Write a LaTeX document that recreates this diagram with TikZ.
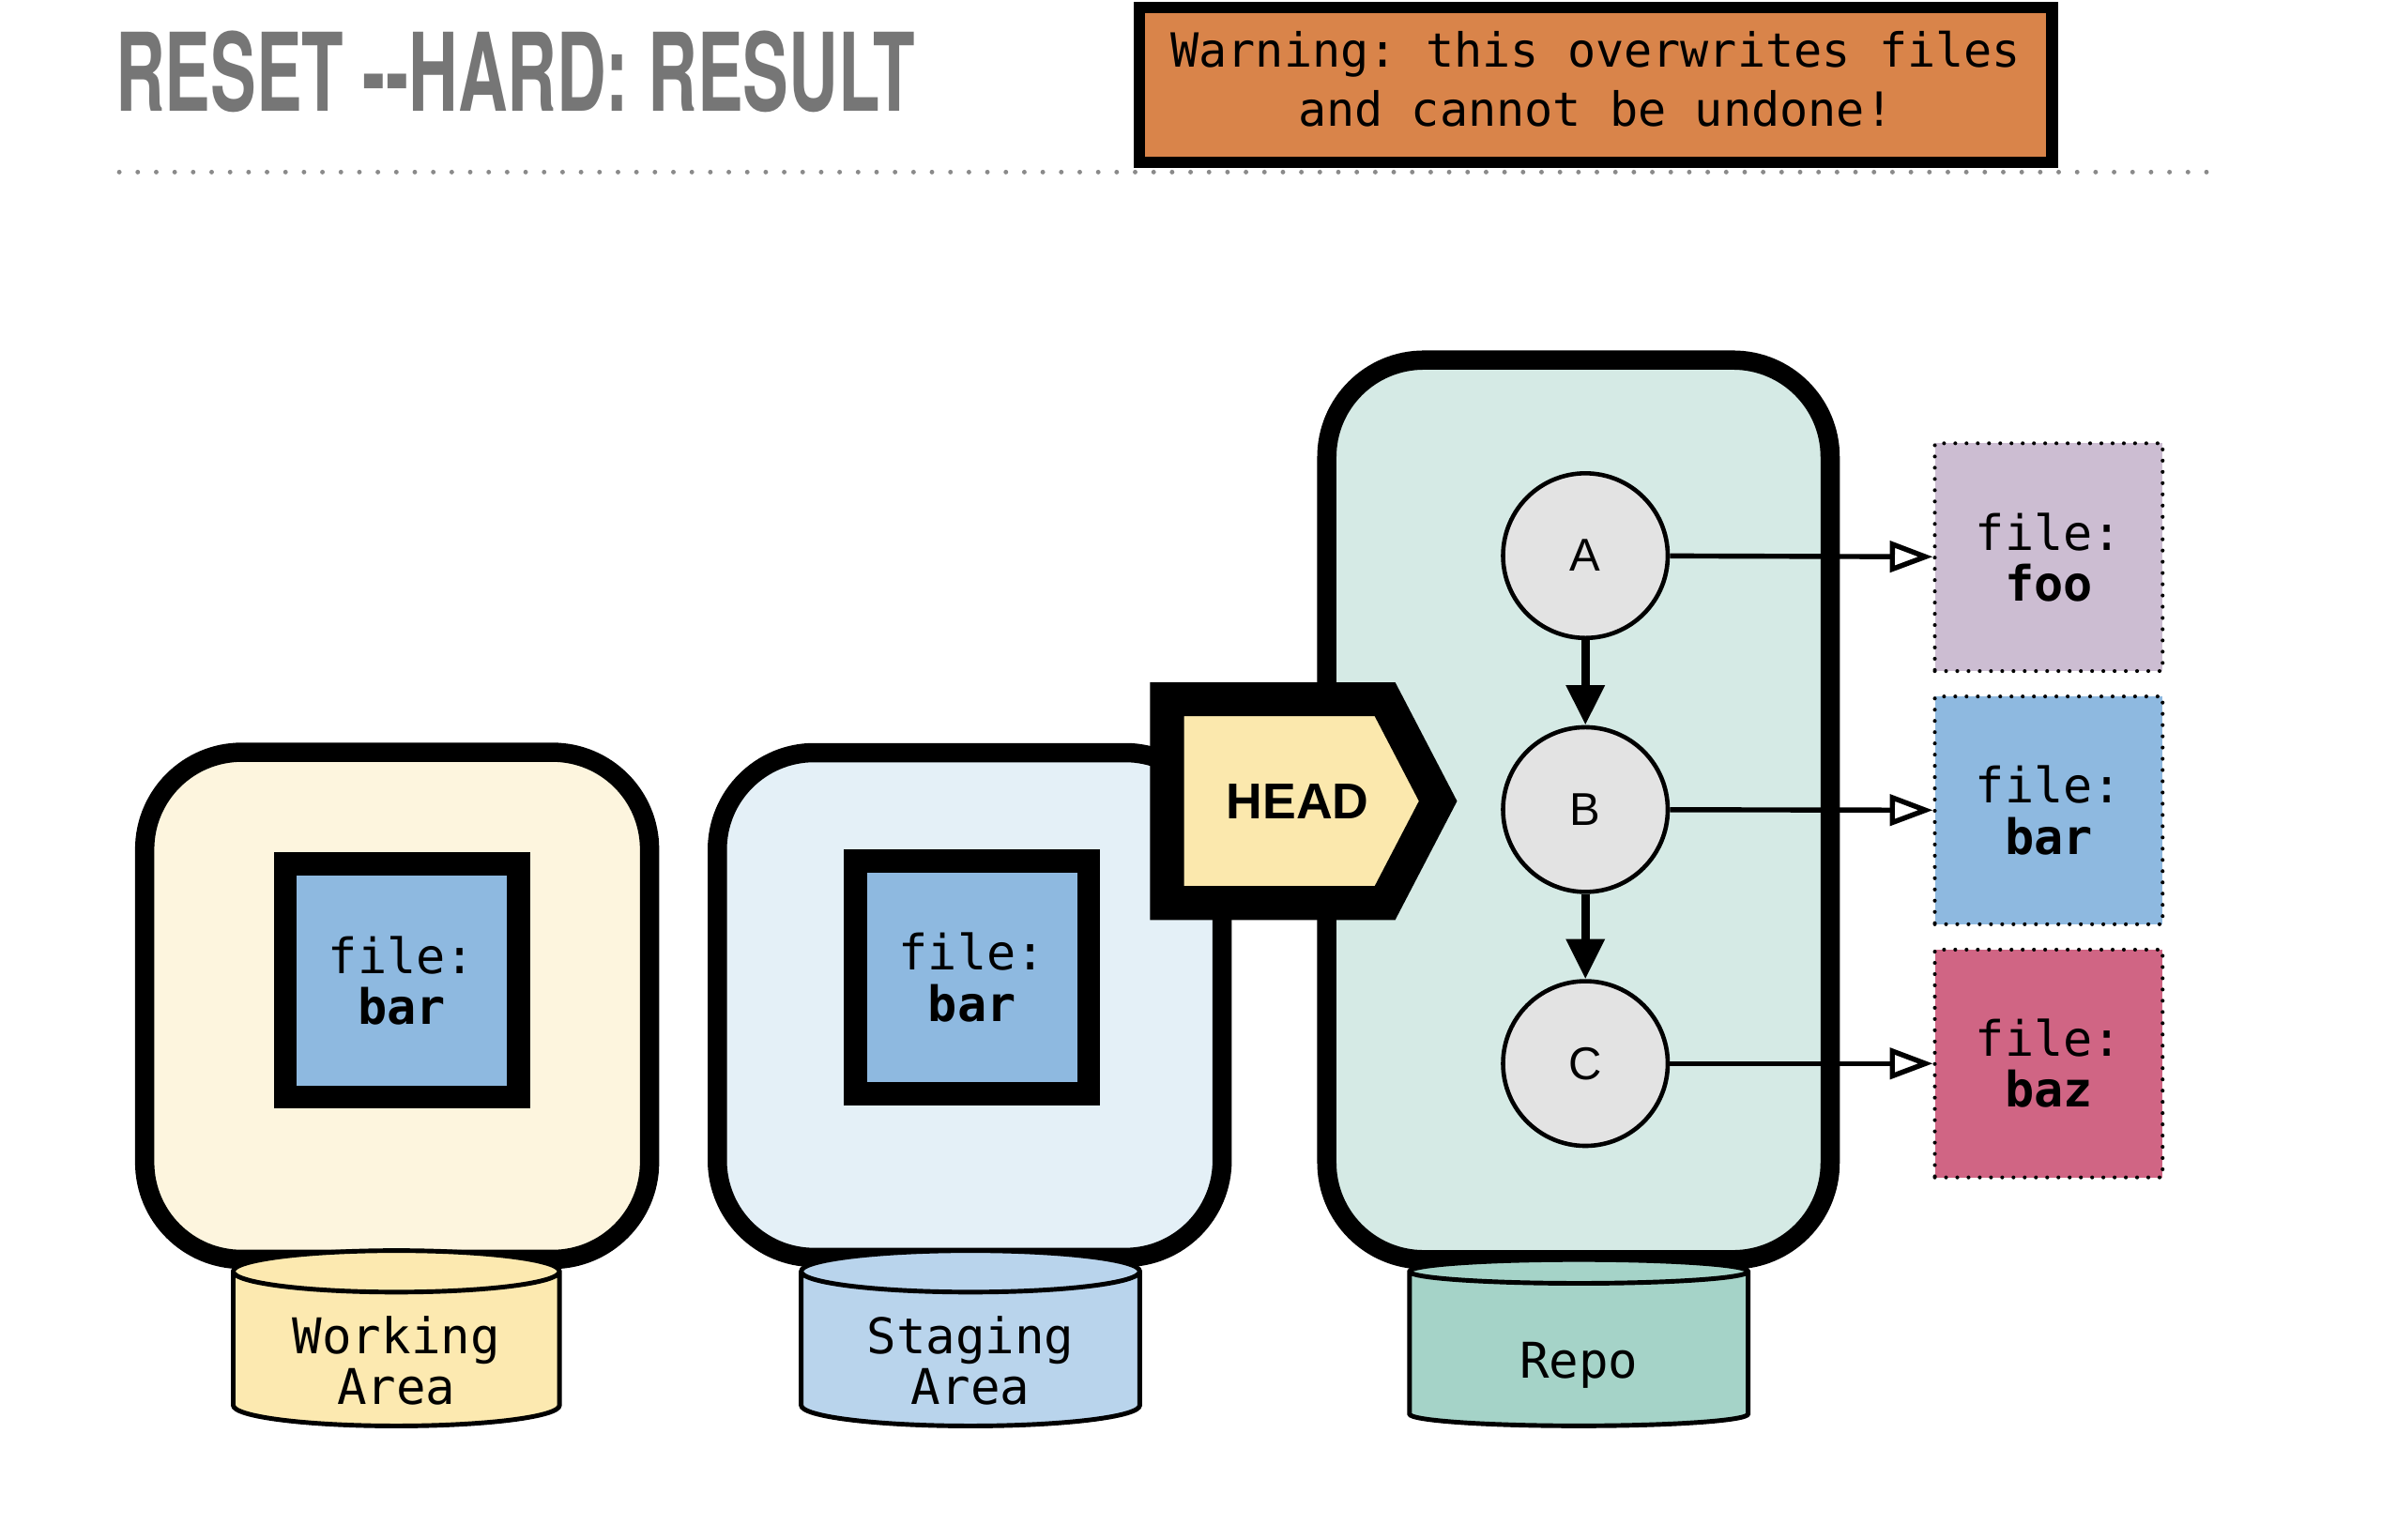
\documentclass[tikz,border=0pt]{standalone}
\usepackage{fontspec}
\setmainfont{Liberation Sans}
\setsansfont{Liberation Sans}
\setmonofont{DejaVu Sans Mono}
\newfontfamily\titlefont{TeX Gyre Heros}
\usetikzlibrary{arrows.meta,shapes.geometric,shapes.symbols}

\definecolor{titlegrey}{HTML}{767676}
\definecolor{rulegrey}{HTML}{8A8A8A}
\definecolor{warnorange}{HTML}{D9844A}
\definecolor{workfill}{HTML}{FDF5DE}
\definecolor{stagefill}{HTML}{E4F0F7}
\definecolor{repofill}{HTML}{D5EAE5}
\definecolor{filebar}{HTML}{8EB9E0}
\definecolor{filefoo}{HTML}{CCBDD2}
\definecolor{filebaz}{HTML}{D06584}
\definecolor{commitfill}{HTML}{E3E3E3}
\definecolor{headfill}{HTML}{FBE8AD}
\definecolor{workdb}{HTML}{FCE9B0}
\definecolor{stagedb}{HTML}{B9D4EC}
\definecolor{repodb}{HTML}{A5D3C8}

\newcommand{\filefont}{\ttfamily\fontsize{9}{9.4}\selectfont}
\newcommand{\dbfont}{\ttfamily\fontsize{9.1}{9.4}\selectfont}

\begin{document}
\begin{tikzpicture}[x=0.1mm, y=-0.1mm,
		area/.style={draw, line width=1.25mm, rounded corners=6.3mm, minimum width=32.8mm},
		blob/.style={draw, fill=filebar, line width=1.5mm, minimum size=15.15mm, inner sep=0pt, align=center, font=\filefont},
		db/.style={draw, cylinder, shape border rotate=90, aspect=0.2, line width=0.3mm, minimum height=10.8mm, inner sep=0pt, align=center, font=\dbfont},
		commit/.style={draw, circle, fill=commitfill, line width=0.28mm, minimum size=10.7mm, inner sep=0pt, font=\sffamily\fontsize{8.5}{10}\selectfont},
		filebox/.style={draw, line width=0.25mm, dash pattern=on 0pt off 0.73mm, line cap=round, minimum size=14.8mm, inner sep=0pt, align=center, font=\filefont},
		head/.style={draw, shape=signal, signal to=east, signal pointer angle=125, line width=2.2mm, fill=headfill, minimum width=17.6mm, minimum height=13.24mm, inner sep=0pt, font=\sffamily\bfseries\fontsize{9.3}{11}\selectfont},
		parent/.style={line width=0.54mm, -{Triangle[length=2.6mm, width=2.4mm]}},
		points/.style={line width=0.33mm, -{Triangle[length=2.8mm, width=2.0mm, fill=white]}}]
	\useasboundingbox (0,0) rectangle (1557.3,1000);

	\node[anchor=north west, inner sep=0pt, text=titlegrey] (title) at (74.5,19.3) {\resizebox{51.95mm}{5.22mm}{\titlefont\bfseries RESET -{}-HARD: RESULT}};
	\node[draw, fill=warnorange, line width=0.75mm, minimum width=59.3mm, minimum height=9.2mm, align=center, font=\ttfamily\fontsize{8.7}{11}\selectfont] (warning) at (1036.7,55.2) {\strut Warning: this overwrites files\\\strut and cannot be undone!};
	\coordinate (rule west) at (77.5,111.8);
	\coordinate (rule east) at (1441,111.8);
	\draw[rulegrey, line width=0.3mm, dash pattern=on 0pt off 1.2mm, line cap=round] (rule west) -- (rule east);

	\node[area, fill=workfill, minimum height=32.95mm] (work) at (258,653.5) {};
	\node[area, fill=stagefill, minimum height=32.8mm] (stage) at (630,653) {};
	\node[area, fill=repofill, minimum height=58.45mm, minimum width=32.7mm] (repo) at (1025.5,526.2) {};

	\node[blob] (workfile) at (261,637) {file:\\\textbf{bar}};
	\node[blob] (stagefile) at (631.5,635) {file:\\\textbf{bar}};

	\node[db, fill=workdb, minimum width=21.2mm] (workdb) at (257.5,877) {\rule{0pt}{3.85mm}Working\\Area};
	\node[db, fill=stagedb, minimum width=22mm] (stagedb) at (630.5,877) {\rule{0pt}{3.85mm}Staging\\Area};
	\node[db, fill=repodb, minimum width=22mm] (repodb) at (1025.7,877) {\rule{0pt}{4.3mm}Repo};

	\node[head] (head) at (829,520.5) {\hspace*{2.8mm}HEAD};

	\node[commit] (A) at (1030,361) {A};
	\node[commit] (B) at (1030,526) {B};
	\node[commit] (C) at (1030,691) {C};

	\node[filebox, fill=filefoo] (foo) at (1331,362) {file:\\\textbf{foo}};
	\node[filebox, fill=filebar] (bar) at (1331,526.5) {file:\\\textbf{bar}};
	\node[filebox, fill=filebaz] (baz) at (1331,691) {file:\\\textbf{baz}};

	\draw[parent] (A) -- (B);
	\draw[parent] (B) -- (C);
	\draw[points] (A) -- (foo);
	\draw[points] (B) -- (bar);
	\draw[points] (C) -- (baz);
\end{tikzpicture}
\end{document}
